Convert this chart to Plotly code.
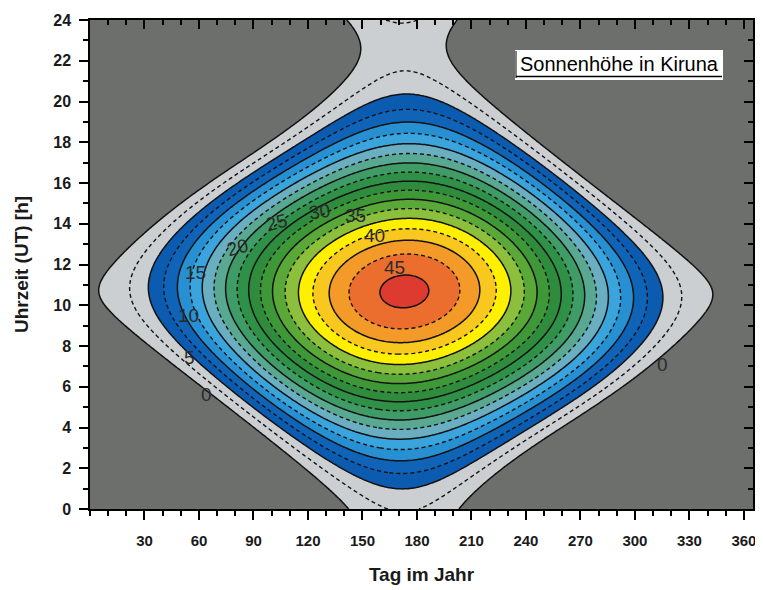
import numpy as np
import plotly.graph_objects as go

# ---------------- data ----------------
# Site parameters (Kiruna, Sweden)
LATITUDE_DEG = 67.85
LONGITUDE_DEG = 20.22

day_of_year = np.arange(0, 366, 1.0)
hour_ut = np.arange(0, 24.0001, 0.1)

# contour levels (degrees of solar elevation)
level_start, level_end, level_step = 0.0, 45.0, 2.5
solid_levels_step = 5.0

x_tick_vals = [30, 60, 90, 120, 150, 180, 210, 240, 270, 300, 330, 360]
y_tick_vals = [0, 2, 4, 6, 8, 10, 12, 14, 16, 18, 20, 22, 24]

band_colors = [
    "#6d6f6d",  # below 0
    "#cbcfd1", "#cbcfd1",  # 0 - 5
    "#0b5bb0", "#0f64b8",  # 5 - 10
    "#2690d2", "#3aa4dc",  # 10 - 15
    "#6aaec2", "#58a892",  # 15 - 20
    "#3f9c66", "#2f9048",  # 20 - 25
    "#2f8c3c", "#3f9838",  # 25 - 30
    "#5aa838", "#8cc03c",  # 30 - 35
    "#fff000", "#f9c81e",  # 35 - 40
    "#f49a28", "#ec6e2e",  # 40 - 45
    "#dd3a30",  # above 45
]

label_text = ["0", "5", "10", "15", "20", "25", "30", "35", "40", "45", "0"]
label_day = [64, 55, 54, 58, 81, 102.5, 126.5, 146, 156.5, 167.5, 315]
label_hour = [5.6, 7.45, 9.5, 11.6, 12.85, 14.05, 14.6, 14.4, 13.4, 11.85, 7.1]
label_angle = [0, 0, 0, 0, -15, -15, -8, 0, 0, 0, 0]

# ---------------- solar elevation grid ----------------
D, H = np.meshgrid(day_of_year, hour_ut)
g = 2 * np.pi / 365.0 * (D - 1 + (H - 12) / 24.0)
decl = (0.006918 - 0.399912 * np.cos(g) + 0.070257 * np.sin(g)
        - 0.006758 * np.cos(2 * g) + 0.000907 * np.sin(2 * g)
        - 0.002697 * np.cos(3 * g) + 0.00148 * np.sin(3 * g))
eot = 229.18 * (0.000075 + 0.001868 * np.cos(g) - 0.032077 * np.sin(g)
                - 0.014615 * np.cos(2 * g) - 0.040849 * np.sin(2 * g))
solar_minutes = H * 60 + eot + 4 * LONGITUDE_DEG
hour_angle = np.radians(solar_minutes / 4.0 - 180.0)
phi = np.radians(LATITUDE_DEG)
sin_h = np.sin(phi) * np.sin(decl) + np.cos(phi) * np.cos(decl) * np.cos(hour_angle)
elev = np.degrees(np.arcsin(sin_h))
hc = np.maximum(elev, -1.0)
refr = 1.02 / np.tan(np.radians(hc + 10.3 / (hc + 5.11))) / 60.0
elevation = elev + refr

# ---------------- figure ----------------
n_col = len(band_colors)
colorscale = [[i / (n_col - 1), c] for i, c in enumerate(band_colors)]

fig = go.Figure()
fig.add_trace(go.Contour(
    x=day_of_year, y=hour_ut, z=elevation,
    autocontour=False,
    contours=dict(start=level_start, end=level_end, size=level_step, coloring="fill"),
    colorscale=colorscale, showscale=False,
    line=dict(width=0), hoverinfo="skip",
))
fig.add_trace(go.Contour(
    x=day_of_year, y=hour_ut, z=elevation,
    autocontour=False,
    contours=dict(start=level_start + level_step, end=level_end - level_step,
                  size=solid_levels_step, coloring="none"),
    line=dict(color="#111111", width=1.4, dash="4px,3px"),
    showscale=False, hoverinfo="skip",
))
fig.add_trace(go.Contour(
    x=day_of_year, y=hour_ut, z=elevation,
    autocontour=False,
    contours=dict(start=level_start, end=level_end, size=solid_levels_step, coloring="none"),
    line=dict(color="#111111", width=1.5),
    showscale=False, hoverinfo="skip",
))

sans = "Liberation Sans, Arial, sans-serif"

for t, dx, hy, ang in zip(label_text, label_day, label_hour, label_angle):
    fig.add_annotation(x=dx, y=hy, text=t, showarrow=False, textangle=ang,
                       xanchor="center", yanchor="middle",
                       font=dict(family=sans, size=19, color="#2b2b2b"))

# page body has an 8px margin -> figure is drawn 8px right/down of the window corner
PAGE_OFF = 8
FIG_W, FIG_H = 763 - PAGE_OFF, 590 - PAGE_OFF
PLOT_L, PLOT_R, PLOT_T, PLOT_B = 90 - PAGE_OFF, 753 - PAGE_OFF, 20 - PAGE_OFF, 509 - PAGE_OFF


def px_x(p):
    return (p - PAGE_OFF - PLOT_L) / (PLOT_R - PLOT_L)


def px_y(p):
    return 1 - (p - PAGE_OFF - PLOT_T) / (PLOT_B - PLOT_T)


# title box (white box + underline + text)
fig.add_shape(type="rect", xref="paper", yref="paper", layer="above",
              x0=px_x(515), x1=px_x(723), y0=px_y(80), y1=px_y(50),
              fillcolor="white", line=dict(width=0))
fig.add_shape(type="line", xref="paper", yref="paper", layer="above",
              x0=px_x(516), x1=px_x(722), y0=px_y(76.5), y1=px_y(76.5),
              line=dict(color="black", width=1.5))
fig.add_shape(type="line", xref="paper", yref="paper", layer="above",
              x0=px_x(516), x1=px_x(516), y0=px_y(78), y1=px_y(51),
              line=dict(color="black", width=1))
fig.add_annotation(xref="paper", yref="paper", x=px_x(619), y=px_y(64),
                   xanchor="center", yanchor="middle",
                   text="Sonnenhöhe in Kiruna", showarrow=False,
                   font=dict(family=sans, size=20, color="black"))

xtickfont = dict(family=sans, size=15, color="#1a1a1a", weight="bold")
ytickfont = dict(family=sans, size=16, color="#1a1a1a", weight="bold")
titlefont = dict(family=sans, size=19, color="#1a1a1a", weight="bold")

fig.update_layout(
    width=FIG_W, height=FIG_H,
    margin=dict(l=PLOT_L, r=FIG_W - PLOT_R, t=PLOT_T, b=FIG_H - PLOT_B),
    paper_bgcolor="white", plot_bgcolor="#6d6f6d",
    showlegend=False,
    xaxis=dict(range=[0, 365], tickvals=x_tick_vals, ticks="outside", ticklen=9,
               tickwidth=1.5, tickcolor="black", showline=True, linecolor="black",
               linewidth=1.5, mirror=True, showgrid=False, zeroline=False,
               tickfont=xtickfont, automargin=False, ticklabelstandoff=8,
               ticklabeloverflow="allow",
               minor=dict(dtick=10, tick0=0, ticks="outside", ticklen=5, tickwidth=1.5,
                          tickcolor="black", showgrid=False),
               title=dict(text="Tag im Jahr", font=titlefont, standoff=20)),
    yaxis=dict(range=[0, 24], tickvals=y_tick_vals, ticks="outside", ticklen=9,
               tickwidth=1.5, tickcolor="black", showline=True, linecolor="black",
               linewidth=1.5, mirror=True, showgrid=False, zeroline=False,
               tickfont=ytickfont, automargin=False, ticklabelstandoff=5,
               minor=dict(dtick=1, tick0=0, ticks="outside", ticklen=5, tickwidth=1.5,
                          tickcolor="black", showgrid=False),
               title=dict(text="Uhrzeit (UT) [h]", font=titlefont, standoff=20)),
    xaxis2=dict(range=[0, 365], overlaying="x", side="top", anchor="y",
                tickvals=x_tick_vals, ticks="inside", ticklen=9, tickwidth=1.5,
                tickcolor="black", showticklabels=False, showgrid=False,
                zeroline=False, showline=False, automargin=False,
                minor=dict(dtick=10, tick0=0, ticks="inside", ticklen=5, tickwidth=1.5,
                           tickcolor="black", showgrid=False)),
    yaxis2=dict(range=[0, 24], overlaying="y", side="right", anchor="x",
                tickvals=y_tick_vals, ticks="inside", ticklen=9, tickwidth=1.5,
                tickcolor="black", showticklabels=False, showgrid=False,
                zeroline=False, showline=False, automargin=False,
                minor=dict(dtick=1, tick0=0, ticks="inside", ticklen=5, tickwidth=1.5,
                           tickcolor="black", showgrid=False)),
)
fig.add_trace(go.Scatter(x=[None], y=[None], xaxis="x2", yaxis="y2",
                         mode="markers", hoverinfo="skip", showlegend=False))

fig.write_html("out.html")
